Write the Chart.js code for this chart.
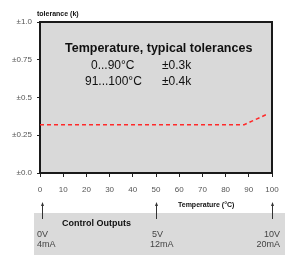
<!DOCTYPE html>
<html>
<head>
<meta charset="utf-8">
<script src="https://cdn.jsdelivr.net/npm/chart.js@4"></script>
<style>
  html, body { margin: 0; padding: 0; background: #fff; }
  #wrap { width: 289px; height: 265px; position: relative; }
</style>
</head>
<body>
<div id="wrap"><canvas id="chart" width="289" height="265"></canvas></div>
<script>
/* ---------------- Data ---------------- */
const tempPoints = [0, 88, 98];          // °C
const tolValues  = [0.32, 0.32, 0.39];   // k
const yTicks     = [0, 0.25, 0.5, 0.75, 1.0];
const yTickLabels = ["±0.0", "±0.25", "±0.5", "±0.75", "±1.0"];
const ctrlTemps   = [0, 50, 100];
const ctrlVolts   = ["0V", "5V", "10V"];
const ctrlAmps    = ["4mA", "12mA", "20mA"];
const infoRows    = [["0...90°C", "±0.3k"], ["91...100°C", "±0.4k"]];

const FONT = "'Liberation Sans', Arial, sans-serif";

/* ---------------- Decorations ---------------- */
const deco = {
  id: "deco",
  beforeDraw(chart){
    const { ctx, chartArea: a } = chart;
    ctx.save();
    ctx.fillStyle = "#d9d9d9";
    ctx.fillRect(a.left, a.top, a.right - a.left, a.bottom - a.top);
    ctx.restore();
  },
  afterDraw(chart){
    const { ctx, chartArea: a } = chart;
    const xs = chart.scales.x;
    ctx.save();
    // top + right frame
    ctx.strokeStyle = "#1a1a1a";
    ctx.lineWidth = 2;
    ctx.beginPath();
    ctx.moveTo(a.left, a.top); ctx.lineTo(a.right, a.top); ctx.lineTo(a.right, a.bottom);
    ctx.stroke();

    // axis title
    ctx.fillStyle = "#111";
    ctx.font = "bold 7px " + FONT;
    ctx.textBaseline = "alphabetic";
    ctx.textAlign = "left";
    ctx.fillText("tolerance (k)", 37, 16);

    // info block
    ctx.font = "bold 12.5px " + FONT;
    ctx.fillText("Temperature, typical tolerances", 65, 52);
    ctx.font = "12px " + FONT;
    const rowX = [91, 85];
    infoRows.forEach((r, i) => {
      const y = 69 + i * 16;
      ctx.fillText(r[0], rowX[i], y);
      ctx.fillText(r[1], 162, y);
    });

    // x title
    ctx.font = "bold 7px " + FONT;
    ctx.fillText("Temperature (°C)", 178, 207);

    // control outputs box
    ctx.fillStyle = "#dadada";
    ctx.fillRect(34, 213, 251, 42);

    // arrows
    ctx.strokeStyle = "#333";
    ctx.fillStyle = "#333";
    ctx.lineWidth = 1;
    ctrlTemps.forEach((t, i) => {
      const x = Math.round(xs.getPixelForValue(t)) + (i === 0 ? 2.5 : 0.5);
      ctx.beginPath(); ctx.moveTo(x, 205); ctx.lineTo(x, 219); ctx.stroke();
      ctx.beginPath(); ctx.moveTo(x, 202); ctx.lineTo(x - 1.5, 206); ctx.lineTo(x + 1.5, 206); ctx.closePath(); ctx.fill();
    });

    ctx.fillStyle = "#111";
    ctx.font = "bold 9px " + FONT;
    ctx.textAlign = "left";
    ctx.fillText("Control Outputs", 62, 226);

    ctx.fillStyle = "#444";
    ctx.font = "9px " + FONT;
    ctrlTemps.forEach((t, i) => {
      const last = i === ctrlTemps.length - 1;
      const x = i === 0 ? 37 : last ? 280 : xs.getPixelForValue(t) - 4;
      ctx.textAlign = last ? "right" : "left";
      ctx.fillText(ctrlVolts[i], x, 237);
      ctx.fillText(ctrlAmps[i], i === 1 ? x - 2 : x, 247);
    });
    ctx.restore();
  }
};

/* ---------------- Chart ---------------- */
new Chart(document.getElementById("chart"), {
  type: "line",
  data: {
    datasets: [{
      data: tempPoints.map((t, i) => ({ x: t, y: tolValues[i] })),
      borderColor: "#ff2a2a",
      borderWidth: 1.5,
      borderDash: [4, 3],
      pointRadius: 0,
      tension: 0,
      fill: false
    }]
  },
  options: {
    responsive: false,
    animation: false,
    layout: { padding: { top: 22, right: 17, left: 0, bottom: 0 } },
    plugins: { legend: { display: false }, tooltip: { enabled: false } },
    scales: {
      x: {
        type: "linear", min: 0, max: 100,
        afterFit: s => { s.height = 92; },
        ticks: { stepSize: 10, color: "#555", padding: 8, font: { family: FONT, size: 8 }, maxRotation: 0 },
        grid: { drawOnChartArea: false, drawTicks: true, tickLength: 4, color: "#222" },
        border: { display: true, color: "#1a1a1a", width: 2 }
      },
      y: {
        min: 0, max: 1,
        afterFit: s => { s.width = 40; },
        afterBuildTicks: s => { s.ticks = yTicks.map(v => ({ value: v })); },
        ticks: {
          color: "#555", padding: 5, font: { family: FONT, size: 8 },
          callback: v => yTickLabels[yTicks.indexOf(v)]
        },
        grid: { drawOnChartArea: false, drawTicks: true, tickLength: 3, color: "#222" },
        border: { display: true, color: "#1a1a1a", width: 2 }
      }
    }
  },
  plugins: [deco]
});
</script>
</body>
</html>
